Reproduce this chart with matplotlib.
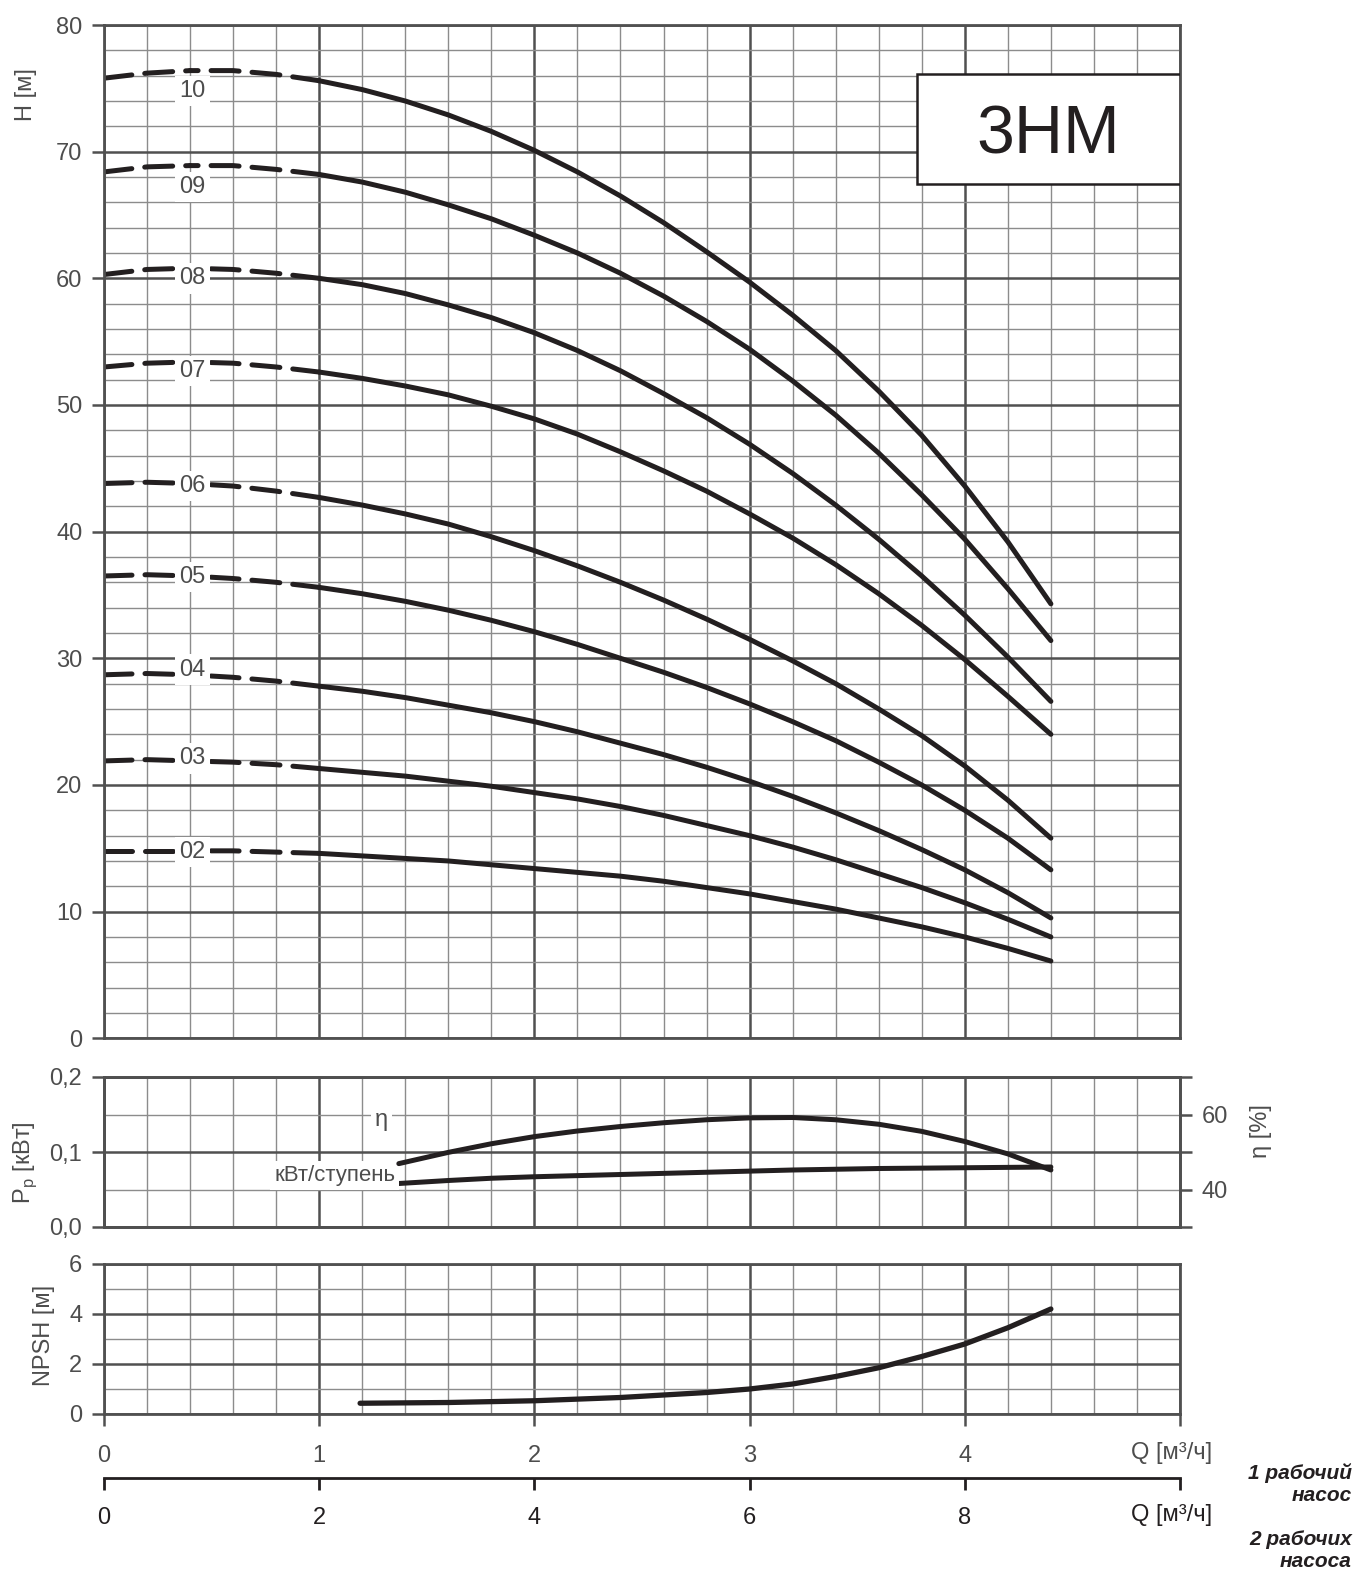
import numpy as np
import matplotlib
matplotlib.use("Agg")
import matplotlib.pyplot as plt
from matplotlib.patches import Rectangle

plt.rcParams['font.family'] = ['Liberation Sans', 'DejaVu Sans']

# подача, м3/ч (1 насос)
Q = [0, 0.2, 0.4, 0.6, 0.8, 1.0, 1.2, 1.4, 1.6, 1.8, 2.0, 2.2,
     2.4, 2.6, 2.8, 3.0, 3.2, 3.4, 3.6, 3.8, 4.0, 4.2, 4.4]

# напор, м, по числу ступеней
H10 = [75.8, 76.2, 76.4, 76.4, 76.1, 75.6, 74.9, 74.0, 72.9, 71.6, 70.1, 68.4,
       66.5, 64.4, 62.1, 59.7, 57.1, 54.3, 51.1, 47.6, 43.6, 39.2, 34.3]
H09 = [68.4, 68.8, 68.9, 68.9, 68.6, 68.2, 67.6, 66.8, 65.8, 64.7, 63.4, 62.0,
       60.4, 58.6, 56.6, 54.4, 51.9, 49.2, 46.2, 42.9, 39.4, 35.5, 31.4]
H08 = [60.3, 60.7, 60.8, 60.7, 60.4, 60.0, 59.5, 58.8, 57.9, 56.9, 55.7, 54.3,
       52.7, 50.9, 49.0, 46.9, 44.6, 42.1, 39.4, 36.5, 33.4, 30.1, 26.6]
H07 = [53.0, 53.3, 53.4, 53.3, 53.0, 52.6, 52.1, 51.5, 50.8, 49.9, 48.9, 47.7,
       46.3, 44.8, 43.2, 41.4, 39.5, 37.4, 35.1, 32.6, 29.9, 27.0, 24.0]
H06 = [43.8, 43.9, 43.8, 43.6, 43.2, 42.7, 42.1, 41.4, 40.6, 39.6, 38.5, 37.3,
       36.0, 34.6, 33.1, 31.5, 29.8, 28.0, 26.0, 23.9, 21.5, 18.8, 15.8]
H05 = [36.5, 36.6, 36.5, 36.3, 36.0, 35.6, 35.1, 34.5, 33.8, 33.0, 32.1, 31.1,
       30.0, 28.9, 27.7, 26.4, 25.0, 23.5, 21.8, 20.0, 18.0, 15.8, 13.3]
H04 = [28.7, 28.8, 28.7, 28.5, 28.2, 27.8, 27.4, 26.9, 26.3, 25.7, 25.0, 24.2,
       23.3, 22.4, 21.4, 20.3, 19.1, 17.8, 16.4, 14.9, 13.3, 11.5, 9.5]
H03 = [21.9, 22.0, 21.9, 21.8, 21.6, 21.3, 21.0, 20.7, 20.3, 19.9, 19.4, 18.9,
       18.3, 17.6, 16.8, 16.0, 15.1, 14.1, 13.0, 11.9, 10.7, 9.4, 8.0]
H02 = [14.8, 14.8, 14.8, 14.8, 14.7, 14.6, 14.4, 14.2, 14.0, 13.7, 13.4, 13.1,
       12.8, 12.4, 11.9, 11.4, 10.8, 10.2, 9.5, 8.8, 8.0, 7.1, 6.1]

stages = ['10', '09', '08', '07', '06', '05', '04', '03', '02']
curves = [H10, H09, H08, H07, H06, H05, H04, H03, H02]
label_H = [74.8, 67.2, 60.0, 52.7, 43.6, 36.4, 29.1, 22.1, 14.7]
label_Q = 0.41

# КПД, % и мощность на ступень, кВт
Q_eta = [1.37, 1.6, 1.8, 2.0, 2.2, 2.4, 2.6, 2.8, 3.0, 3.2, 3.4, 3.6, 3.8, 4.0, 4.2, 4.4]
eta = [46.9, 49.9, 52.2, 54.1, 55.6, 56.8, 57.8, 58.6, 59.1, 59.2, 58.6, 57.4,
       55.5, 52.8, 49.5, 45.2]
Q_kw = [1.37, 1.6, 1.8, 2.0, 2.4, 2.8, 3.2, 3.6, 4.0, 4.4]
kw = [0.058, 0.062, 0.065, 0.067, 0.070, 0.073, 0.076, 0.078, 0.079, 0.080]

# NPSH, м
Q_npsh = [1.19, 1.6, 2.0, 2.4, 2.8, 3.0, 3.2, 3.4, 3.6, 3.8, 4.0, 4.2, 4.4]
npsh = [0.43, 0.46, 0.53, 0.66, 0.86, 1.0, 1.2, 1.5, 1.85, 2.3, 2.8, 3.45, 4.2]

W, Hpx = 1358, 1573
fig = plt.figure(figsize=(W / 100, Hpx / 100), dpi=100)


def fx(p):
    return p / W


def fy(p):
    return 1 - p / Hpx


L, R = 104, 1180
ax_h = fig.add_axes([fx(L), fy(1038.3), fx(R) - fx(L), fy(25) - fy(1038.3)])
ax_p = fig.add_axes([fx(L), fy(1227), fx(R) - fx(L), fy(1077) - fy(1227)])
ax_n = fig.add_axes([fx(L), fy(1414), fx(R) - fx(L), fy(1264) - fy(1414)])

major_c = '#505050'
minor_c = '#8c8c8c'
text_c = '#4d4d4d'
line_c = '#231f20'


def setup(ax, ymax, ymaj, ymin):
    ax.set_xlim(0, 5)
    ax.set_ylim(0, ymax)
    ax.set_xticks(np.arange(0, 5.01, 1))
    ax.set_xticks(np.arange(0, 5.01, 0.2), minor=True)
    ax.set_yticks(np.arange(0, ymax + 1e-9, ymaj))
    ax.set_yticks(np.arange(0, ymax + 1e-9, ymin), minor=True)
    ax.set_axisbelow(True)
    ax.grid(which='major', color=major_c, lw=1.8)
    ax.grid(which='minor', color=minor_c, lw=1.0)
    for s in ax.spines.values():
        s.set_color(major_c)
        s.set_linewidth(2)
    ax.tick_params(which='minor', length=0)
    ax.tick_params(axis='x', which='major', length=0, labelbottom=False)
    ax.tick_params(axis='y', which='major', length=8.6, width=1.8, color=major_c,
                   labelsize=17, labelcolor=text_c, pad=7)


setup(ax_h, 80, 10, 2)
setup(ax_p, 0.2, 0.1, 0.05)
setup(ax_n, 6, 2, 1)
ax_p.set_yticklabels(['0,0', '0,1', '0,2'])

# кривые напора: пунктир до 1 м3/ч, дальше сплошная
for name, h, ly in zip(stages, curves, label_H):
    ax_h.plot(Q[:3], h[:3], color=line_c, lw=3.6, linestyle=(0, (5.6, 2.6)),
              dash_capstyle='round')
    ax_h.plot(Q[2:6], h[2:6], color=line_c, lw=3.6, linestyle=(4.0, (5.6, 2.6)),
              dash_capstyle='round')
    ax_h.plot(Q[5:], h[5:], color=line_c, lw=3.6, solid_capstyle='round',
              solid_joinstyle='round')
    ax_h.text(label_Q, ly, name, ha='center', va='center', fontsize=17, color=text_c,
              zorder=5, bbox=dict(fc='white', ec='none', pad=3))

ax_h.add_patch(Rectangle((0.7556, 0.8431), 0.2444, 0.1085, transform=ax_h.transAxes,
                         fc='white', ec=line_c, lw=1.8, zorder=6))
ax_h.text(0.8773, 0.8727, '3HM', transform=ax_h.transAxes, ha='center', va='baseline',
          fontsize=49, color=line_c, zorder=7)

# мощность и КПД
ax_e = ax_p.twinx()
ax_e.set_ylim(30, 70)
ax_e.set_yticks([30, 40, 50, 60, 70])
ax_e.set_yticklabels(['', '40', '', '60', ''])
ax_e.tick_params(axis='y', length=8.6, width=1.8, color=major_c, labelsize=17,
                 labelcolor=text_c, pad=7)
for s in ax_e.spines.values():
    s.set_color(major_c)
    s.set_linewidth(2)
ax_p.plot(Q_kw, kw, color=line_c, lw=3.6, solid_capstyle='round', solid_joinstyle='round')
ax_e.plot(Q_eta, eta, color=line_c, lw=3.6, solid_capstyle='round', solid_joinstyle='round')
ax_p.text(1.29, 0.143, 'η', ha='center', va='center', fontsize=17, color=text_c,
          bbox=dict(fc='white', ec='none', pad=3))
ax_p.text(1.353, 0.069, 'кВт/ступень', ha='right', va='center', fontsize=16,
          color=text_c, bbox=dict(fc='white', ec='none', pad=3))

# NPSH
ax_n.plot(Q_npsh, npsh, color=line_c, lw=3.8, solid_capstyle='round', solid_joinstyle='round')
ax_n.tick_params(axis='x', which='major', length=8.6, width=1.8, color=major_c,
                 labelbottom=True, labelsize=17, labelcolor=text_c, pad=14)
ax_n.set_xticklabels(['0', '1', '2', '3', '4', ''])

# вторая шкала подачи (2 насоса)
ax_q = fig.add_axes([fx(L), fy(1478), fx(R) - fx(L), 1e-4])
ax_q.set_xlim(0, 10)
ax_q.patch.set_visible(False)
for k in ['top', 'left', 'right']:
    ax_q.spines[k].set_visible(False)
ax_q.spines['bottom'].set_color(line_c)
ax_q.spines['bottom'].set_linewidth(2)
ax_q.set_yticks([])
ax_q.set_xticks([0, 2, 4, 6, 8, 10])
ax_q.set_xticklabels(['0', '2', '4', '6', '8', ''])
ax_q.tick_params(axis='x', length=8.6, width=2, color=line_c, labelsize=17,
                 labelcolor=line_c, pad=12)

fig.text(fx(1212), fy(1453), 'Q [м³/ч]', ha='right', va='center', fontsize=17, color=text_c)
fig.text(fx(1212), fy(1515), 'Q [м³/ч]', ha='right', va='center', fontsize=17, color=line_c)

fig.text(fx(26), fy(95), 'H [м]', rotation=90, ha='center', va='center', fontsize=17, color=text_c)
fig.text(fx(25), fy(1163), 'P$_{\\mathregular{p}}$ [кВт]', rotation=90, ha='center', va='center',
         fontsize=17, color=text_c)
fig.text(fx(44), fy(1335), 'NPSH [м]', rotation=90, ha='center', va='center', fontsize=17, color=text_c)
fig.text(fx(1261), fy(1131), 'η [%]', rotation=90, ha='center', va='center', fontsize=17, color=text_c)

fig.text(fx(1352), fy(1484.5), '1 рабочий\nнасос', ha='right', va='center', fontsize=15,
         fontweight='bold', style='italic', color=line_c, linespacing=1.2)
fig.text(fx(1352), fy(1550.5), '2 рабочих\nнасоса', ha='right', va='center', fontsize=15,
         fontweight='bold', style='italic', color=line_c, linespacing=1.2)

fig.savefig('out.png', dpi=100)
